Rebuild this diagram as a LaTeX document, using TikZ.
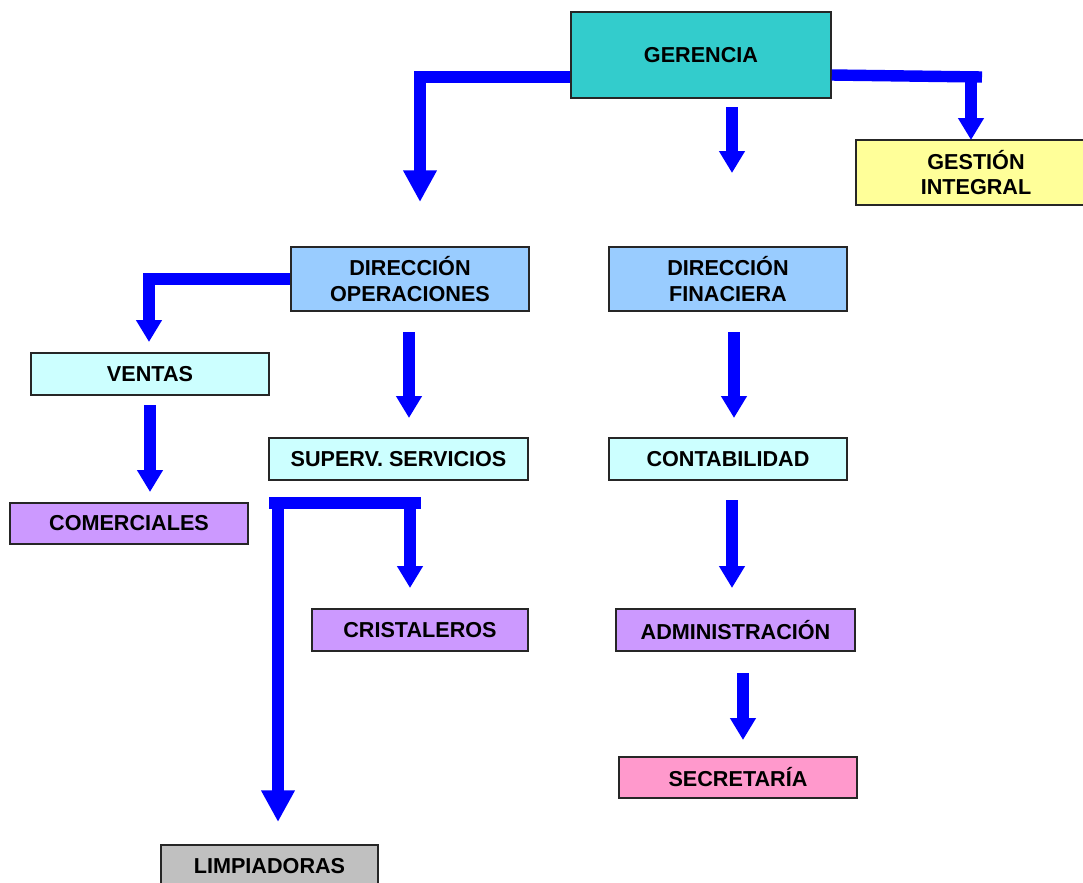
\documentclass[tikz,border=0pt]{standalone}
\usepackage{fontspec}
\setmainfont{Liberation Sans}
\usepackage{tikz}
\usetikzlibrary{calc,arrows.meta}
\definecolor{cteal}{HTML}{33CCCC}
\definecolor{cyel}{HTML}{FFFF99}
\definecolor{cblue}{HTML}{99CCFF}
\definecolor{ccyan}{HTML}{CCFFFF}
\definecolor{clav}{HTML}{CC99FF}
\definecolor{cpink}{HTML}{FF99CC}
\definecolor{cgray}{HTML}{C0C0C0}
\definecolor{carrow}{HTML}{0000FF}
\tikzset{
  ubox/.style   = {draw=black!85, line width=0.9pt, inner sep=0pt, align=center,
                   font=\bfseries\fontsize{12.3}{14.7}\selectfont},
  flow/.style   = {draw=carrow, line width=6.5pt},
  stip/.style   = {-{Triangle[width=14pt,length=12.5pt]}},
  btip/.style   = {-{Triangle[width=18pt,length=18pt]}},
}
\begin{document}
\begin{tikzpicture}[x=0.02cm,y=-0.02cm]
  \useasboundingbox (0,0) rectangle (1083,883);
  % top level
  \node[ubox, fill=cteal, minimum width=5.2cm, minimum height=1.72cm] (ger) at (701,55) {\raisebox{-1.5pt}{GERENCIA}};
  \node[ubox, fill=cyel, minimum width=4.8cm, minimum height=1.3cm] (gest) at (976,172.5) {GESTIÓN\\INTEGRAL};
  % directions
  \node[ubox, fill=cblue, minimum width=4.76cm, minimum height=1.28cm] (dirop) at (410,279) {DIRECCIÓN\\OPERACIONES};
  \node[ubox, fill=cblue, minimum width=4.76cm, minimum height=1.28cm] (dirfin) at (728,279) {DIRECCIÓN\\FINACIERA};
  % departments
  \node[ubox, fill=ccyan, minimum width=4.76cm, minimum height=0.84cm] (vent) at (150,374) {VENTAS};
  \node[ubox, fill=ccyan, minimum width=5.18cm, minimum height=0.84cm] (sup) at (398.5,459) {SUPERV. SERVICIOS};
  \node[ubox, fill=ccyan, minimum width=4.76cm, minimum height=0.84cm] (cont) at (728,459) {CONTABILIDAD};
  % staff
  \node[ubox, fill=clav, minimum width=4.76cm, minimum height=0.82cm] (com) at (129,523.5) {COMERCIALES};
  \node[ubox, fill=clav, minimum width=4.32cm, minimum height=0.84cm] (cris) at (420,630) {CRISTALEROS};
  \node[ubox, fill=clav, minimum width=4.78cm, minimum height=0.84cm] (adm) at (735.5,630) {ADMINISTRACIÓN};
  \node[ubox, fill=cpink, minimum width=4.76cm, minimum height=0.82cm] (secr) at (738,777.5) {SECRETARÍA};
  \node[ubox, fill=cgray, minimum width=4.34cm, minimum height=0.84cm] (limp) at (269.5,866) {LIMPIADORAS};

  % arrow ends
  \coordinate (t1) at (420,202);
  \coordinate (gk) at (971,77);
  \coordinate (a3) at (732,107);  \coordinate (t3) at (732,173);
  \coordinate (t4) at (149,342);
  \coordinate (a5) at (409,332);  \coordinate (t5) at (409,418);
  \coordinate (a6) at (150,405);  \coordinate (t6) at (150,492);
  \coordinate (a7) at (734,332);  \coordinate (t7) at (734,418);
  \coordinate (sl) at (278,503);  \coordinate (sr) at (410,503);
  \coordinate (tl) at (278,822);  \coordinate (tr) at (410,588);
  \coordinate (a9) at (732,500);  \coordinate (t9) at (732,588);
  \coordinate (a10) at (743,673); \coordinate (t10) at (743,740);
  \coordinate (tg) at (971,140);

  % connectors
  \draw[flow, btip] ($(ger.west)+(0,22)$) -| (t1);
  \draw[flow] ($(ger.east)+(0,20)$) -- ($(gk)+(11,0)$);
  \draw[flow, stip] (gk) -- (tg);
  \draw[flow, stip] (a3) -- (t3);
  \draw[flow, stip] (dirop.west) -| (t4);
  \draw[flow, stip] (a5) -- (t5);
  \draw[flow, stip] (a6) -- (t6);
  \draw[flow, stip] (a7) -- (t7);
  \draw[flow] ($(sl)+(-9,0)$) -- ($(sr)+(11,0)$);
  \draw[flow, btip] (sl) -- (tl);
  \draw[flow, stip] (sr) -- (tr);
  \draw[flow, stip] (a9) -- (t9);
  \draw[flow, stip] (a10) -- (t10);
\end{tikzpicture}
\end{document}
